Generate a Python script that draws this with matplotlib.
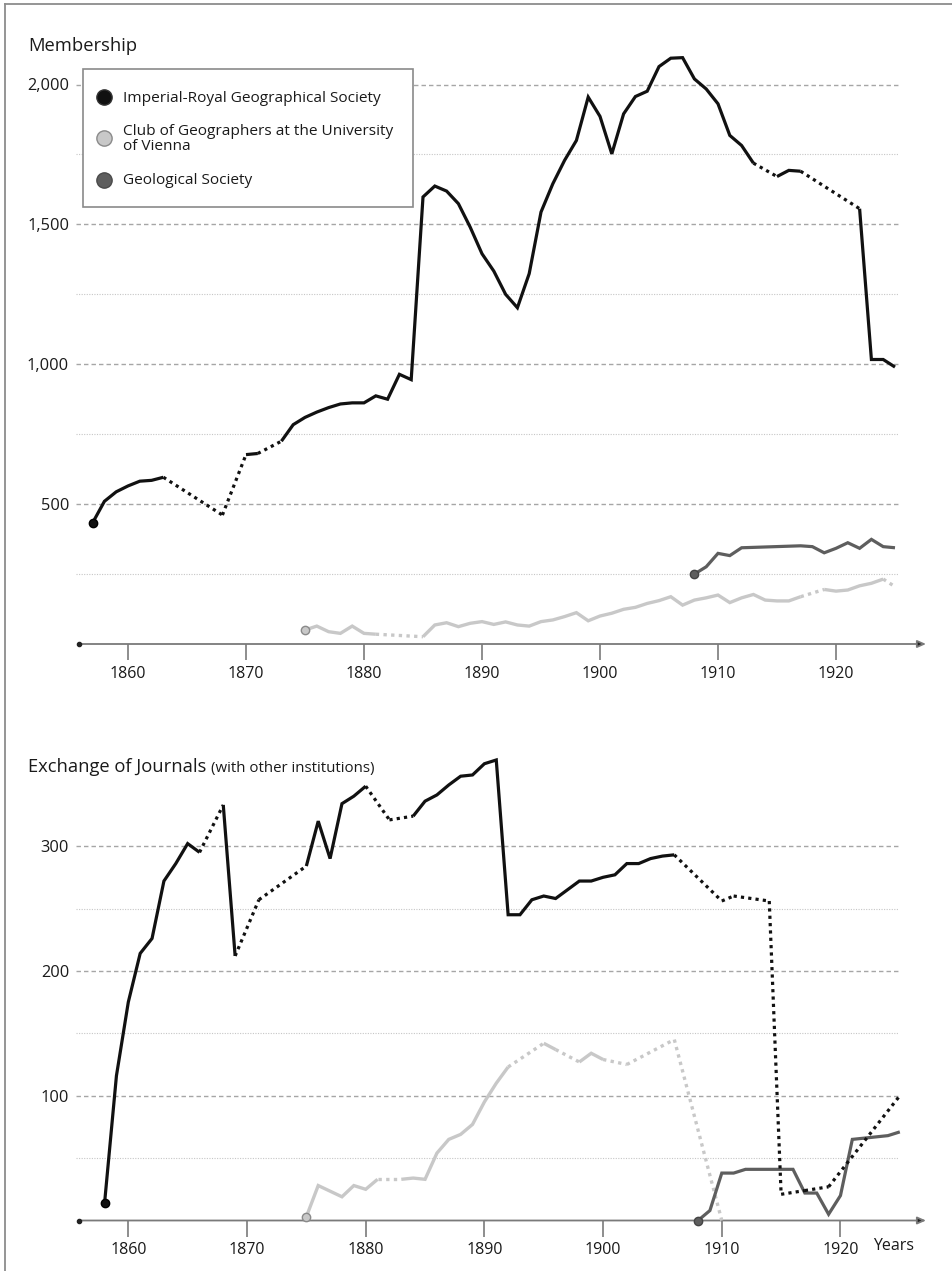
import matplotlib
matplotlib.use('Agg')
import matplotlib.pyplot as plt
from matplotlib.patches import Rectangle

plt.rcParams['font.family'] = ['Open Sans', 'DejaVu Sans']

# ---------------- data: Membership ----------------
irgs_mem_years = [1857, 1858, 1859, 1860, 1861, 1862, 1863, 1868, 1870, 1871,
                  1873, 1874, 1875, 1876, 1877, 1878, 1879, 1880, 1881, 1882,
                  1883, 1884, 1885, 1886, 1887, 1888, 1889, 1890, 1891, 1892,
                  1893, 1894, 1895, 1896, 1897, 1898, 1899, 1900, 1901, 1902,
                  1903, 1904, 1905, 1906, 1907, 1908, 1909, 1910, 1911, 1912,
                  1913, 1915, 1916, 1917, 1922, 1923, 1924, 1925]
irgs_mem_vals = [433, 510, 544, 565, 582, 585, 596, 461, 677, 681,
                 725, 784, 810, 829, 845, 858, 862, 862, 887, 875,
                 964, 945, 1598, 1637, 1619, 1574, 1490, 1395, 1333, 1250,
                 1202, 1324, 1544, 1645, 1729, 1800, 1955, 1886, 1752, 1895,
                 1957, 1976, 2064, 2094, 2096, 2020, 1984, 1931, 1818, 1782,
                 1719, 1671, 1693, 1690, 1556, 1017, 1017, 990]
irgs_mem_dotted = [1863, 1868, 1871, 1913, 1917]

club_mem_years = [1875, 1876, 1877, 1878, 1879, 1880, 1881, 1885, 1886, 1887,
                  1888, 1889, 1890, 1891, 1892, 1893, 1894, 1895, 1896, 1897,
                  1898, 1899, 1900, 1901, 1902, 1903, 1904, 1905, 1906, 1907,
                  1908, 1909, 1910, 1911, 1912, 1913, 1914, 1915, 1916, 1917,
                  1919, 1920, 1921, 1922, 1923, 1924, 1925]
club_mem_vals = [50, 64, 44, 38, 64, 38, 35, 26, 68, 76,
                 62, 74, 80, 70, 79, 68, 64, 80, 86, 98,
                 112, 83, 100, 110, 124, 131, 145, 155, 169, 139,
                 157, 165, 175, 148, 165, 177, 157, 154, 154, 169,
                 195, 189, 193, 208, 217, 232, 205]
club_mem_dotted = [1881, 1917, 1924]

geo_mem_years = [1908, 1909, 1910, 1911, 1912, 1917, 1918, 1919, 1920, 1921,
                 1922, 1923, 1924, 1925]
geo_mem_vals = [250, 276, 324, 316, 344, 351, 348, 326, 342, 362,
                342, 374, 348, 344]
geo_mem_dotted = []

mem_major = [500, 1000, 1500, 2000]
mem_major_labels = ['500', '1,000', '1,500', '2,000']
mem_minor = [250, 750, 1250, 1750]

# ---------------- data: Exchange of Journals ----------------
irgs_jou_years = [1858, 1859, 1860, 1861, 1862, 1863, 1864, 1865, 1866, 1868,
                  1869, 1871, 1875, 1876, 1877, 1878, 1879, 1880, 1882, 1884,
                  1885, 1886, 1887, 1888, 1889, 1890, 1891, 1892, 1893, 1894,
                  1895, 1896, 1897, 1898, 1899, 1900, 1901, 1902, 1903, 1904,
                  1905, 1906, 1910, 1911, 1914, 1915, 1917, 1919, 1925]
irgs_jou_vals = [14, 116, 175, 214, 226, 272, 286, 302, 295, 333,
                 212, 257, 284, 320, 290, 334, 340, 348, 321, 324,
                 336, 341, 349, 356, 357, 366, 369, 245, 245, 257,
                 260, 258, 265, 272, 272, 275, 277, 286, 286, 290,
                 292, 293, 256, 260, 256, 21, 24, 27, 100]
irgs_jou_dotted = [1866, 1869, 1871, 1880, 1882, 1906, 1910, 1911, 1914,
                   1915, 1917, 1919]

club_jou_years = [1875, 1876, 1878, 1879, 1880, 1881, 1883, 1884, 1885, 1886,
                  1887, 1888, 1889, 1890, 1891, 1892, 1895, 1896, 1898, 1899,
                  1900, 1902, 1906, 1910]
club_jou_vals = [3, 28, 19, 28, 25, 33, 33, 34, 33, 54,
                 65, 69, 77, 95, 110, 123, 142, 137, 127, 134,
                 129, 125, 145, 0]
club_jou_dotted = [1881, 1892, 1896, 1900, 1902, 1906]

geo_jou_years = [1908, 1909, 1910, 1911, 1912, 1916, 1917, 1918, 1919, 1920,
                 1921, 1922, 1924, 1925]
geo_jou_vals = [0, 8, 38, 38, 41, 41, 22, 22, 5, 20,
                65, 66, 68, 71]
geo_jou_dotted = []

jou_major = [100, 200, 300]
jou_major_labels = ['100', '200', '300']
jou_minor = [50, 150, 250]

decades = [1860, 1870, 1880, 1890, 1900, 1910, 1920]

legend_labels = ['Imperial-Royal Geographical Society',
                 'Club of Geographers at the University\nof Vienna',
                 'Geological Society']

# ---------------- styling ----------------
C_IRGS = '#111111'
C_CLUB = '#c8c8c8'
C_GEO = '#5e5e5e'
TXT = '#1a1a1a'
AXC = '#7a7a7a'

W, H = 952, 1271
fig = plt.figure(figsize=(W / 100, H / 100), dpi=100)
fig.patch.set_facecolor('white')


def px_axes(left, right, top, bottom):
    return fig.add_axes([left / W, 1 - bottom / H, (right - left) / W, (bottom - top) / H])


XLIM = (1855.593, 1927.627)


def draw_series(ax, years, vals, dotted, color, lw, mfc, mec, z):
    n = len(years)
    i = 0
    while i < n - 1:
        is_dot = years[i] in dotted
        j = i
        while j < n - 1 and (years[j] in dotted) == is_dot:
            j += 1
        if is_dot:
            for k in range(i, j):
                ax.plot(years[k:k + 2], vals[k:k + 2], color=color, lw=lw,
                        ls=(0, (1, 1.3)), dash_capstyle='butt', zorder=z,
                        clip_on=False)
        else:
            ax.plot(years[i:j + 1], vals[i:j + 1], color=color, lw=lw, ls='-',
                    solid_joinstyle='miter', solid_capstyle='butt', zorder=z,
                    clip_on=False)
        i = j
    ax.plot([years[0]], [vals[0]], 'o', ms=6, mfc=mfc, mec=mec, mew=1.0,
            zorder=z + 1, clip_on=False)


def setup_axes(ax, ylim_top, major, major_labels, minor, grid_frac, arrow_frac):
    ax.set_xlim(*XLIM)
    ax.set_ylim(0, ylim_top)
    for s in ax.spines.values():
        s.set_visible(False)
    ax.patch.set_visible(False)
    for v in major:
        ax.axhline(v, xmin=0, xmax=grid_frac, color='#a6a6a6', lw=1.0,
                   ls=(0, (3.2, 2.2)), zorder=0)
    for v in minor:
        ax.axhline(v, xmin=0, xmax=grid_frac, color='#c6c6c6', lw=0.8,
                   ls=(0, (1, 1.3)), zorder=0)
    ax.set_yticks(major)
    ax.set_yticklabels(major_labels)
    ax.tick_params(axis='y', length=0, pad=5, labelsize=11.8, labelcolor=TXT)
    ax.set_xticks(decades)
    ax.set_xticklabels([str(d) for d in decades])
    ax.tick_params(axis='x', length=11.5, width=1.2, color=AXC, pad=4.2,
                   labelsize=11.5, labelcolor=TXT, direction='out')
    x0 = 1855.85
    x1 = XLIM[0] + arrow_frac * (XLIM[1] - XLIM[0])
    ax.annotate('', xy=(x1, 0), xytext=(x0, 0), xycoords='data',
                arrowprops=dict(arrowstyle='-|>,head_length=0.5,head_width=0.22',
                                color=AXC, lw=1.3, shrinkA=0, shrinkB=0,
                                fc='#222222', ec=AXC),
                annotation_clip=False, zorder=3)
    ax.plot([x0], [0], 'o', ms=3, color='#222222', clip_on=False, zorder=4)


# ---------------- top chart ----------------
ax1 = px_axes(76, 926, 50, 644)
setup_axes(ax1, 594 / 0.27975, mem_major, mem_major_labels, mem_minor,
           (898 - 76) / 850, 1.0)
draw_series(ax1, club_mem_years, club_mem_vals, club_mem_dotted, C_CLUB, 2.4,
            C_CLUB, '#8a8a8a', 3)
draw_series(ax1, geo_mem_years, geo_mem_vals, geo_mem_dotted, C_GEO, 2.3,
            C_GEO, '#444444', 4)
draw_series(ax1, irgs_mem_years, irgs_mem_vals, irgs_mem_dotted, C_IRGS, 2.3,
            C_IRGS, '#000000', 5)

# ---------------- bottom chart ----------------
ax2 = px_axes(76, 931, 745, 1220.5)
setup_axes(ax2, 475.5 / 1.248, jou_major, jou_major_labels, jou_minor,
           (898 - 76) / 855, (926 - 76) / 855)
draw_series(ax2, club_jou_years, club_jou_vals, club_jou_dotted, C_CLUB, 2.4,
            C_CLUB, '#8a8a8a', 3)
draw_series(ax2, geo_jou_years, geo_jou_vals, geo_jou_dotted, C_GEO, 2.3,
            C_GEO, '#444444', 4)
draw_series(ax2, irgs_jou_years, irgs_jou_vals, irgs_jou_dotted, C_IRGS, 2.3,
            C_IRGS, '#000000', 5)

# ---------------- overlay: titles, legend, frame ----------------
ov = fig.add_axes([0, 0, 1, 1])
ov.set_xlim(0, W)
ov.set_ylim(H, 0)
ov.axis('off')
ov.patch.set_visible(False)

ov.plot([5, 5], [4, H], color='#8c8c8c', lw=1.3)
ov.plot([5, W], [4, 4], color='#8c8c8c', lw=1.3)

ov.text(28, 51, 'Membership', fontsize=13.2, color=TXT, ha='left', va='baseline')
ov.text(28, 772, 'Exchange of Journals', fontsize=13.2, color=TXT, ha='left',
        va='baseline')
ov.text(211, 772, '(with other institutions)', fontsize=10.8, color=TXT,
        ha='left', va='baseline')
ov.text(894, 1246, 'Years', fontsize=11.5, color=TXT, ha='center', va='center')

ov.add_patch(Rectangle((83, 69), 330, 138, fc='white', ec='#8a8a8a', lw=1.2,
                       zorder=10))
leg_y = [97, 138, 180]
leg_txt_y = [98, 139, 180]
leg_fc = [C_IRGS, C_CLUB, C_GEO]
leg_ec = ['#333333', '#8a8a8a', '#4a4a4a']
for yy, ty, lab, fc, ec in zip(leg_y, leg_txt_y, legend_labels, leg_fc, leg_ec):
    ov.plot([104], [yy], 'o', ms=11, mfc=fc, mec=ec, mew=1.0, zorder=11)
    ov.text(123, ty, lab, fontsize=11.1, color=TXT, ha='left', va='center',
            linespacing=0.95, zorder=11)

fig.savefig('out.png', dpi=100, facecolor='white')
